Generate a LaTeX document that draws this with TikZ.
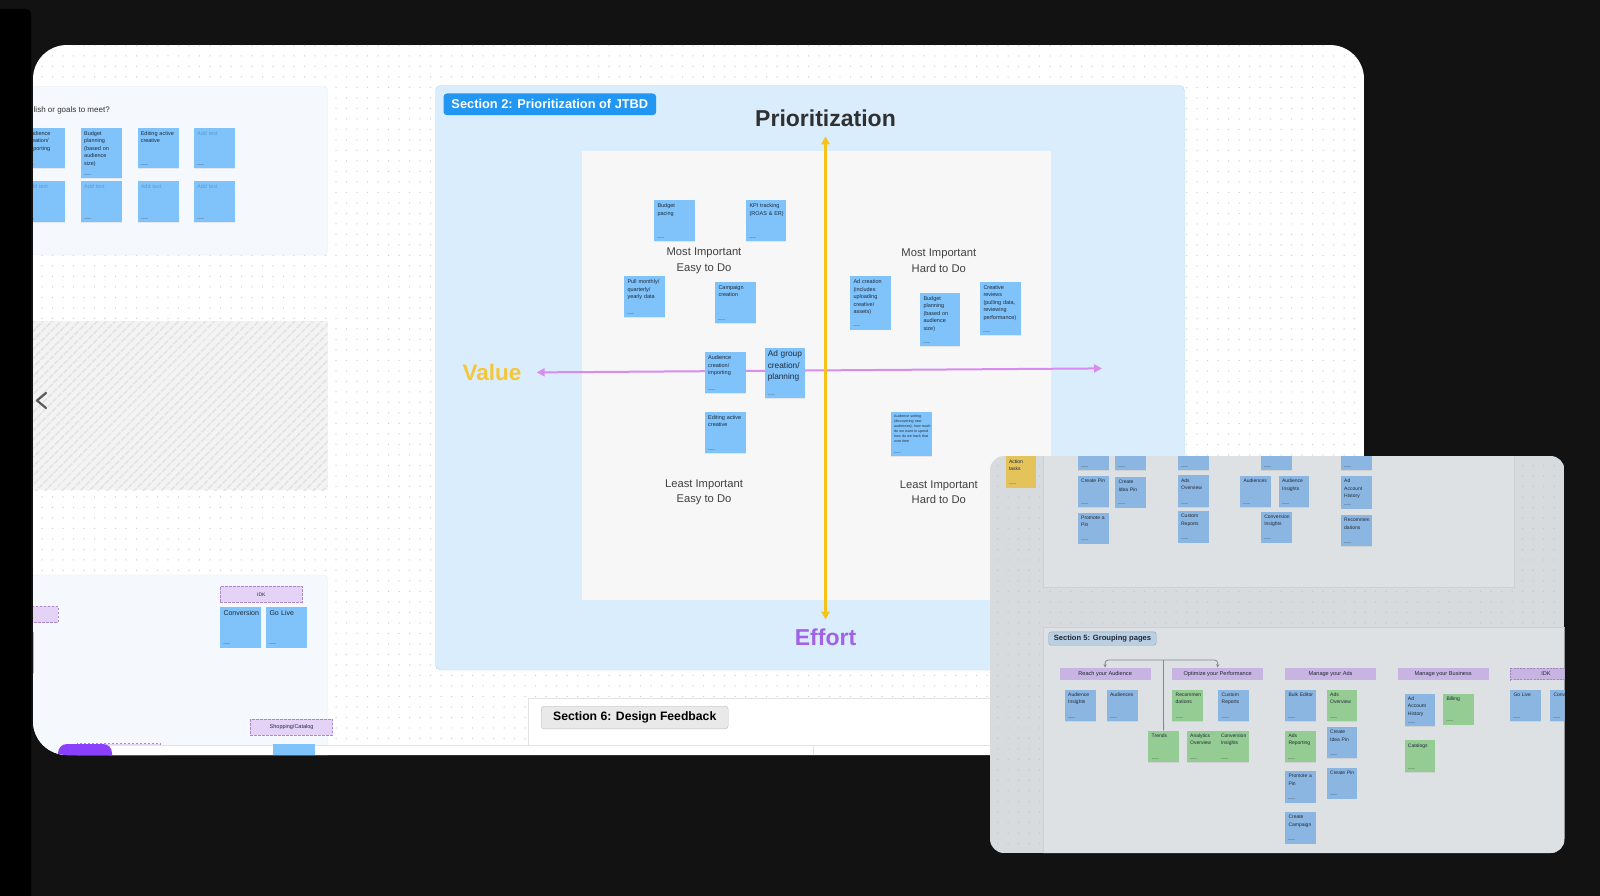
\documentclass[tikz,border=0pt]{standalone}
\usepackage{fontspec}
\setmainfont{Liberation Sans}
\usetikzlibrary{arrows.meta,patterns.meta,shadows}

\definecolor{bgdark}{HTML}{121212}
\definecolor{griddot}{HTML}{D2D2D2}
\definecolor{note}{HTML}{80C2FA}
\definecolor{notetxt}{HTML}{1E2B3A}
\definecolor{ph}{HTML}{5C9BD3}
\definecolor{panelL}{HTML}{F5F9FE}
\definecolor{panelbd}{HTML}{E8EEF5}
\definecolor{hatchbg}{HTML}{F3F3F3}
\definecolor{hatch}{HTML}{E3E3E3}
\definecolor{secbg}{HTML}{DAEDFC}
\definecolor{secbd}{HTML}{B6D7F3}
\definecolor{secblue}{HTML}{2196F3}
\definecolor{quad}{HTML}{F7F7F7}
\definecolor{axy}{HTML}{F6C31A}
\definecolor{axp}{HTML}{D98CF0}
\definecolor{valy}{HTML}{F5C63A}
\definecolor{effp}{HTML}{A062E6}
\definecolor{ttl}{HTML}{303030}
\definecolor{qtxt}{HTML}{404040}
\definecolor{lav}{HTML}{E4D2F7}
\definecolor{lavbd}{HTML}{A98BCB}
\definecolor{purp}{HTML}{8A3FFC}
\definecolor{s6bg}{HTML}{E9E9E9}
\definecolor{s6bd}{HTML}{BDBDBD}
\definecolor{sepl}{HTML}{E3E3E3}
\definecolor{chev}{HTML}{5A5A5A}
\definecolor{ovbg}{HTML}{D8DBDE}
\definecolor{ovdot}{HTML}{C4C7CB}
\definecolor{ovin}{HTML}{DEE1E4}
\definecolor{ovbd}{HTML}{CCD0D4}
\definecolor{ovblue}{HTML}{8CB6E2}
\definecolor{ovgreen}{HTML}{94CC93}
\definecolor{ovlav}{HTML}{C8B4E2}
\definecolor{ovlavbd}{HTML}{9F89BC}
\definecolor{ovyel}{HTML}{E5C35B}
\definecolor{ovtxt}{HTML}{1E2835}
\definecolor{s5bg}{HTML}{BACFE2}
\definecolor{s5bd}{HTML}{8DA7C1}
\definecolor{conncol}{HTML}{85878B}

\tikzdeclarepattern{
  name=gdots,
  type=uncolored,
  bottom left={(-1pt,-1pt)},
  top right={(1pt,1pt)},
  tile size={(10.5pt,10.5pt)},
  code={\fill (0pt,0pt) circle[radius=0.75pt];}
}

\tikzset{
  stk/.style={fill=note, draw=none, inner sep=0pt, anchor=north west,
    drop shadow={shadow xshift=0pt, shadow yshift=-0.8pt, opacity=0.15}},
  stxt/.style={anchor=north west, inner sep=0pt, align=left, text=notetxt},
  qn/.style={font=\fontsize{5.5}{7.6}\selectfont},
  tiny/.style={font=\fontsize{3.6}{5}\selectfont},
  big/.style={font=\fontsize{8.3}{11.5}\selectfont},
  cvn/.style={font=\fontsize{7}{9}\selectfont},
  phn/.style={font=\fontsize{5.5}{7.6}\selectfont, text=ph},
  on/.style={font=\fontsize{5}{7.4}\selectfont, text=ovtxt},
  foot/.style={draw=black, opacity=0.16, line width=0.7pt},
  dbox/.style={draw=lavbd, fill=lav, dash pattern=on 2.5pt off 1.5pt, line width=0.9pt,
    inner sep=0pt, anchor=north west, font=\fontsize{5}{6}\selectfont, text=notetxt},
  hdr/.style={fill=ovlav, inner sep=0pt, anchor=north west, font=\fontsize{5.6}{6.5}\selectfont,
    text=ovtxt, minimum height=11.6pt},
  qlab/.style={align=center, font=\fontsize{11.2}{15.4}\selectfont, text=qtxt},
  connline/.style={draw=conncol, line width=0.8pt},
}

% #1 box style, #2 text style, #3 name, #4 x, #5 y, #6 w, #7 h, #8 text
\newcommand{\mknote}[8]{%
  \node[stk,#1,minimum width=#6pt,minimum height=#7pt] (#3) at (#4,#5) {};
  \node[stxt,#2,text width=\dimexpr #6pt-3.5pt\relax] (#3-t) at ([shift={(3.3,3.3)}]#3.north west) {#8};
  \draw[foot] ([shift={(3.3,-4)}]#3.south west) -- ++(7,0);
}

\begin{document}
\begin{tikzpicture}[x=1pt,y=-1pt]
\useasboundingbox (0,0) rectangle (1600,896);
\fill[bgdark] (0,0) rectangle (1600,896);
\fill[black, rounded corners=5] (-10,9) rectangle (31,910);

% ================= main window =================
\begin{scope}
  \clip[rounded corners=34] (33,45) rectangle (1364,755);
  \fill[white] (33,45) rectangle (1364,755);
  \fill[pattern=gdots, pattern color=griddot] (33,45) rectangle (1364,755);

  % left top panel
  \draw[panelbd, fill=panelL, rounded corners=4] (20,86.5) rectangle (327.5,255);
  \node[anchor=west, inner sep=0pt, font=\fontsize{8}{9}\selectfont, text=ttl] (goal) at (33.5,110) {lish or goals to meet?};
  \mknote{}{phn}{lb1}{24}{181}{41}{40.7}{Add text}
  \mknote{}{phn}{lb2}{80.7}{181}{41}{40.7}{Add text}
  \mknote{}{phn}{lb3}{137.3}{181}{41}{40.7}{Add text}
  \mknote{}{phn}{lb4}{193.7}{181}{41}{40.7}{Add text}
  \mknote{}{qn}{la1}{24}{127.7}{41}{40.6}{Audience\\creation/\\importing}
  \mknote{}{qn}{la2}{80.7}{127.7}{41}{50.6}{Budget\\planning\\(based on\\audience\\size)}
  \mknote{}{qn}{la3}{137.3}{127.7}{41}{40.6}{Editing active\\creative}
  \mknote{}{phn}{la4}{193.7}{127.7}{41}{40.6}{Add text}

  % hatched placeholder
  \fill[hatchbg] (20,321) rectangle (327.5,490);
  \fill[pattern={Lines[angle=45,distance=6.5pt,line width=2.2pt]}, pattern color=hatch] (20,321) rectangle (327.5,490);
  \draw[chev, line width=2.2pt, line cap=round, line join=round] (46,393) -- (37,400.5) -- (46,408);

  % left bottom panel
  \draw[panelbd, fill=panelL, rounded corners=4] (20,575) rectangle (327.5,760);
  \node[dbox, minimum width=81.7pt, minimum height=15.7pt] (idk1) at (220,586) {IDK};
  \node[dbox, minimum width=47.7pt, minimum height=16.3pt] (lcut) at (10,606) {};
  \mknote{}{qn}{lbar}{-10}{631.7}{44}{41.3}{}
  \mknote{}{cvn}{conv}{220}{606.7}{40.7}{40.6}{Conversion}
  \mknote{}{cvn}{golive}{266}{606.7}{40.7}{40.6}{Go Live}
  \node[dbox, minimum width=82.3pt, minimum height=15.7pt, font=\fontsize{5.5}{6.5}\selectfont] (shop) at (250,719) {Shopping/Catalog};

  % bottom strip
  \draw[lavbd, fill=lav, dash pattern=on 2.5pt off 1.5pt] (76.7,743.5) rectangle (160,775);
  \fill[white] (110,745) rectangle (1364,760);
  \draw[sepl] (110,745) -- (1364,745);
  \draw[sepl] (813,745) -- (813,760);
  \fill[note] (273,744) rectangle (315,760);
  \fill[purp, rounded corners=9] (58,744) rectangle (112,775);

  % section 2
  \draw[secbd, fill=secbg, rounded corners=5] (435.5,85.5) rectangle (1184.5,670);
  \node[fill=secblue, text=white, font=\bfseries\fontsize{12.8}{14}\selectfont, rounded corners=3.5pt,
        anchor=north west, minimum height=21.7pt, minimum width=212.7pt, inner sep=0pt] (s2lab) at (443.3,93.3) {Section 2: Prioritization of JTBD};
  \fill[quad] (581.6,151) rectangle (1051,600);
  \node[font=\bfseries\fontsize{23}{26}\selectfont, text=ttl] (title) at (825.5,118.5) {Prioritization};

  \node[qlab] (q1) at (704,260.7) {Most Important\\Easy to Do};
  \node[qlab] (q2) at (938.8,260.7) {Most Important\\Hard to Do};
  \node[qlab] (q3) at (704,492.4) {Least Important\\Easy to Do};
  \node[qlab] (q4) at (938.8,492.4) {Least Important\\Hard to Do};

  \coordinate (hl) at (536.7,372.4);
  \coordinate (hr) at (1102,368.4);
  \draw[axp, line width=2pt, {Triangle[length=8pt,width=8pt]}-{Triangle[length=8pt,width=8pt]}] (hl) -- (hr);

  \mknote{}{qn}{bp}{654}{200}{40.3}{41}{Budget\\pacing}
  \mknote{}{qn}{kpi}{746}{200}{40}{41}{KPI tracking\\(ROAS \& ER)}
  \mknote{}{qn}{pull}{624}{276}{40.3}{40.7}{Pull monthly/\\quarterly/\\yearly data}
  \mknote{}{qn}{camp}{715}{281.7}{40.3}{41}{Campaign\\creation}
  \mknote{}{qn}{adc}{850}{276}{40.7}{53.3}{Ad creation\\(includes\\uploading\\creative/\\assets)}
  \mknote{}{qn}{bplan}{920}{292.7}{40}{53}{Budget\\planning\\(based on\\audience\\size)}
  \mknote{}{qn}{crev}{980}{281.7}{40.7}{53.3}{Creative\\reviews\\(pulling data,\\reviewing\\performance)}
  \mknote{}{qn}{aud}{704.7}{352}{40.6}{40.7}{Audience\\creation/\\importing}
  \mknote{}{big}{adg}{764.3}{347.3}{40.7}{50.4}{Ad group\\creation/\\planning}
  \mknote{}{qn}{edit}{704.7}{411.7}{40.6}{41}{Editing active\\creative}
  \mknote{}{tiny}{asort}{890.7}{411.3}{40.6}{44.4}{Audience sorting\\(discovering new\\audiences), how much\\do we want to spend\\how do we track that\\over time}

  \coordinate (vtop) at (825.5,136.5);
  \coordinate (vbot) at (825.5,619.5);
  \draw[axy, line width=2.5pt, {Triangle[length=8pt,width=8.5pt]}-{Triangle[length=8pt,width=8.5pt]}] (vtop) -- (vbot);

  \node[font=\bfseries\fontsize{22.5}{24}\selectfont, text=valy] (value) at (492,372.6) {Value};
  \node[font=\bfseries\fontsize{23}{24}\selectfont, text=effp] (effort) at (825.5,637) {Effort};

  % section 6
  \draw[sepl, fill=white] (528,698) rectangle (1400,745);
  \node[fill=s6bg, draw=s6bd, rounded corners=3pt, font=\bfseries\fontsize{12.2}{14}\selectfont,
        anchor=north west, minimum width=187pt, minimum height=22.7pt, inner sep=0pt] (s6lab) at (541,706) {Section 6: Design Feedback};
\end{scope}

% ================= overlay screenshot =================
\begin{scope}
  \clip[rounded corners=14] (990,456) rectangle (1564.5,853);
  \fill[ovbg] (990,456) rectangle (1564.5,853);
  \fill[pattern=gdots, pattern color=ovdot] (990,456) rectangle (1564.5,853);
  \draw[ovbd, fill=ovin] (1043.6,440) rectangle (1514.6,587.3);
  \draw[ovbd, fill=ovin] (1043.6,627) rectangle (1620,900);

  \mknote{fill=ovyel}{on}{act}{1005.5}{456}{30.7}{31.3}{Action\\tasks}
  \mknote{fill=ovblue}{on}{ovp1}{1077.7}{440}{31.1}{30}{}
  \mknote{fill=ovblue}{on}{ovp2}{1115}{440}{30.8}{30}{}
  \mknote{fill=ovblue}{on}{ovp3}{1177.6}{440}{30.7}{30}{}
  \mknote{fill=ovblue}{on}{ovp4}{1260.8}{440}{30.7}{30}{}
  \mknote{fill=ovblue}{on}{ovp5}{1340.7}{440}{31.1}{30}{}
  \mknote{fill=ovblue}{on}{cpin}{1077.7}{475.7}{31.1}{31}{Create Pin}
  \mknote{fill=ovblue}{on}{cidea}{1115}{476.7}{30.8}{30.6}{Create\\Idea Pin}
  \mknote{fill=ovblue}{on}{aov}{1177.6}{475}{30.7}{31.7}{Ads\\Overview}
  \mknote{fill=ovblue}{on}{auds}{1240}{475.7}{30.8}{31}{Audiences}
  \mknote{fill=ovblue}{on}{audi}{1278.6}{475.7}{30.3}{31}{Audience\\Insights}
  \mknote{fill=ovblue}{on}{aah}{1340.7}{475.7}{31.1}{32.6}{Ad\\Account\\History}
  \mknote{fill=ovblue}{on}{prom}{1077.7}{512.3}{31.1}{31}{Promote a\\Pin}
  \mknote{fill=ovblue}{on}{crep}{1177.6}{511}{30.7}{31.3}{Custom\\Reports}
  \mknote{fill=ovblue}{on}{cins}{1260.8}{511.3}{30.7}{31}{Conversion\\Insights}
  \mknote{fill=ovblue}{on}{rec}{1340.7}{515}{31.1}{31}{Recommen\\dations}

  \node[fill=s5bg, draw=s5bd, rounded corners=2.5pt, font=\bfseries\fontsize{7.6}{9}\selectfont, text=ovtxt,
        anchor=north west, minimum width=107.5pt, minimum height=13.3pt, inner sep=0pt] (s5lab) at (1048.5,631.7) {Section 5: Grouping pages};

  \node[hdr, minimum width=91.2pt] (reach) at (1059.3,667.7) {Reach your Audience};
  \node[hdr, minimum width=91.3pt] (optim) at (1171.8,667.7) {Optimize your Performance};
  \node[hdr, minimum width=90.7pt] (mads) at (1285,667.7) {Manage your Ads};
  \node[hdr, minimum width=91.3pt] (mbus) at (1397.3,667.7) {Manage your Business};
  \node[hdr, draw=ovlavbd, dash pattern=on 2pt off 1.3pt, line width=0.8pt, minimum width=71pt] (idk2) at (1510,667.7) {IDK};

  \mknote{fill=ovblue}{on}{gai}{1064.7}{689.3}{31.1}{31.4}{Audience\\Insights}
  \mknote{fill=ovblue}{on}{gaud}{1106.6}{689.3}{30.8}{31.4}{Audiences}
  \mknote{fill=ovgreen}{on}{grec}{1172.2}{689.3}{30.8}{31.4}{Recommen\\dations}
  \mknote{fill=ovblue}{on}{gcr}{1218.2}{689.3}{30.4}{31.4}{Custom\\Reports}
  \mknote{fill=ovgreen}{on}{trends}{1148.2}{730.3}{30.4}{31.4}{Trends}
  \mknote{fill=ovgreen}{on}{gao}{1186.7}{730.3}{30.8}{31.4}{Analytics\\Overview}
  \mknote{fill=ovgreen}{on}{gci}{1217.5}{730.3}{31.1}{31.4}{Conversion\\Insights}
  \mknote{fill=ovblue}{on}{gbe}{1285}{689.3}{30.5}{31.4}{Bulk Editor}
  \mknote{fill=ovgreen}{on}{gaov}{1326.7}{689.3}{30.4}{31.4}{Ads\\Overview}
  \mknote{fill=ovgreen}{on}{gar}{1285}{730.3}{30.5}{31.4}{Ads\\Reporting}
  \mknote{fill=ovblue}{on}{gcip}{1326.7}{726.7}{30.4}{31}{Create\\Idea Pin}
  \mknote{fill=ovblue}{on}{gpp}{1285}{771}{30.5}{31.3}{Promote a\\Pin}
  \mknote{fill=ovblue}{on}{gcp}{1326.7}{767.3}{30.4}{31}{Create Pin}
  \mknote{fill=ovblue}{on}{gcc}{1285}{811.7}{30.5}{31.6}{Create\\Campaign}
  \mknote{fill=ovblue}{on}{gaah}{1404.4}{693.3}{30.5}{32.7}{Ad\\Account\\History}
  \mknote{fill=ovgreen}{on}{gbill}{1443}{693.3}{31}{31}{Billing}
  \mknote{fill=ovgreen}{on}{gcat}{1404.4}{740}{30.5}{31.7}{Catalogs}
  \mknote{fill=ovblue}{on}{ggl}{1510}{689.3}{31}{31.4}{Go Live}
  \mknote{fill=ovblue}{on}{gconv}{1550}{689.3}{31}{31.4}{Conversion}

  \coordinate (br) at (1163.4,660);
  \draw[connline] (trends.north) -- (br);
  \draw[connline, rounded corners=3, -{Stealth[length=3.5pt,width=3.2pt]}] (br) -| (reach.north);
  \draw[connline, rounded corners=3, -{Stealth[length=3.5pt,width=3.2pt]}] (br) -| (optim.north);
\end{scope}
\end{tikzpicture}
\end{document}
